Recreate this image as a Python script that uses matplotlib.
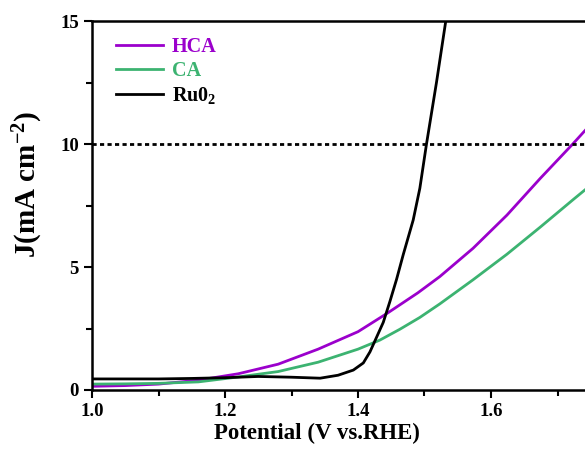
import numpy as np
import matplotlib
matplotlib.use('Agg')
import matplotlib.pyplot as plt
from matplotlib.ticker import MultipleLocator

# values
hca_x = [1.00, 1.05, 1.10, 1.16, 1.22, 1.28, 1.34, 1.40, 1.444, 1.49, 1.523, 1.573, 1.624, 1.674, 1.724, 1.76]
hca_y = [0.15, 0.18, 0.24, 0.40, 0.66, 1.05, 1.66, 2.37, 3.12, 3.95, 4.61, 5.76, 7.11, 8.60, 10.03, 11.1]

ca_x = [1.00, 1.05, 1.10, 1.16, 1.22, 1.28, 1.34, 1.40, 1.433, 1.463, 1.493, 1.523, 1.573, 1.624, 1.674, 1.724, 1.76]
ca_y = [0.24, 0.25, 0.27, 0.33, 0.53, 0.75, 1.13, 1.66, 2.03, 2.47, 2.95, 3.50, 4.48, 5.52, 6.62, 7.75, 8.55]

ru_x = [1.00, 1.10, 1.15, 1.20, 1.25, 1.30, 1.343, 1.37, 1.393, 1.408, 1.418, 1.428, 1.438, 1.448, 1.458, 1.468,
        1.483, 1.493, 1.503, 1.518, 1.532, 1.545]
ru_y = [0.45, 0.45, 0.47, 0.50, 0.55, 0.52, 0.48, 0.60, 0.81, 1.10, 1.55, 2.15, 2.75, 3.60, 4.50, 5.50,
        6.91, 8.20, 10.0, 12.5, 15.0, 17.2]

labels = ['HCA', 'CA', 'Ru0$_2$']
colors = ['#9B00CC', '#3CB371', 'black']

plt.rcParams['font.family'] = ['Liberation Serif', 'DejaVu Serif']
plt.rcParams['font.weight'] = 'bold'
plt.rcParams['mathtext.fontset'] = 'custom'
plt.rcParams['mathtext.rm'] = 'Liberation Serif:bold'
plt.rcParams['mathtext.it'] = 'Liberation Serif:bold'

fig = plt.figure(figsize=(5.85, 4.5), dpi=100)
ax = fig.add_axes([92/585, 60/450, 520/585, 369/450])

ax.plot(hca_x, hca_y, color=colors[0], lw=2, label=labels[0])
ax.plot(ca_x, ca_y, color=colors[1], lw=2, label=labels[1])
ax.plot(ru_x, ru_y, color=colors[2], lw=2, label=labels[2])
ax.axhline(10, color='black', ls=(0, (1.5, 1.2)), lw=2)

ax.set_xlim(1.0, 1.0 + 520/665)
ax.set_ylim(0, 15)
ax.xaxis.set_major_locator(MultipleLocator(0.2))
ax.xaxis.set_minor_locator(MultipleLocator(0.1))
ax.yaxis.set_major_locator(MultipleLocator(5))
ax.yaxis.set_minor_locator(MultipleLocator(2.5))
ax.tick_params(which='both', direction='out', width=1.5, labelsize=13.5)
ax.tick_params(which='major', length=6)
ax.tick_params(which='minor', length=4)
for s in ax.spines.values():
    s.set_linewidth(1.8)

ax.set_xlabel('Potential (V vs.RHE)', fontsize=16.5, fontweight='bold')
ax.xaxis.set_label_coords(0.433, -0.088)
ax.set_ylabel('J(mA cm$^{-2}$)', fontsize=21, fontweight='bold')
ax.yaxis.set_label_coords(-0.09, 0.558)

leg = ax.legend(loc='upper left', frameon=False, fontsize=14.5, handlelength=2.3,
                handletextpad=0.45, borderaxespad=0.3, labelspacing=0.2,
                bbox_to_anchor=(0.02, 0.995))
for t, c in zip(leg.get_texts(), colors):
    t.set_color(c)

fig.savefig('out.png', dpi=100)
